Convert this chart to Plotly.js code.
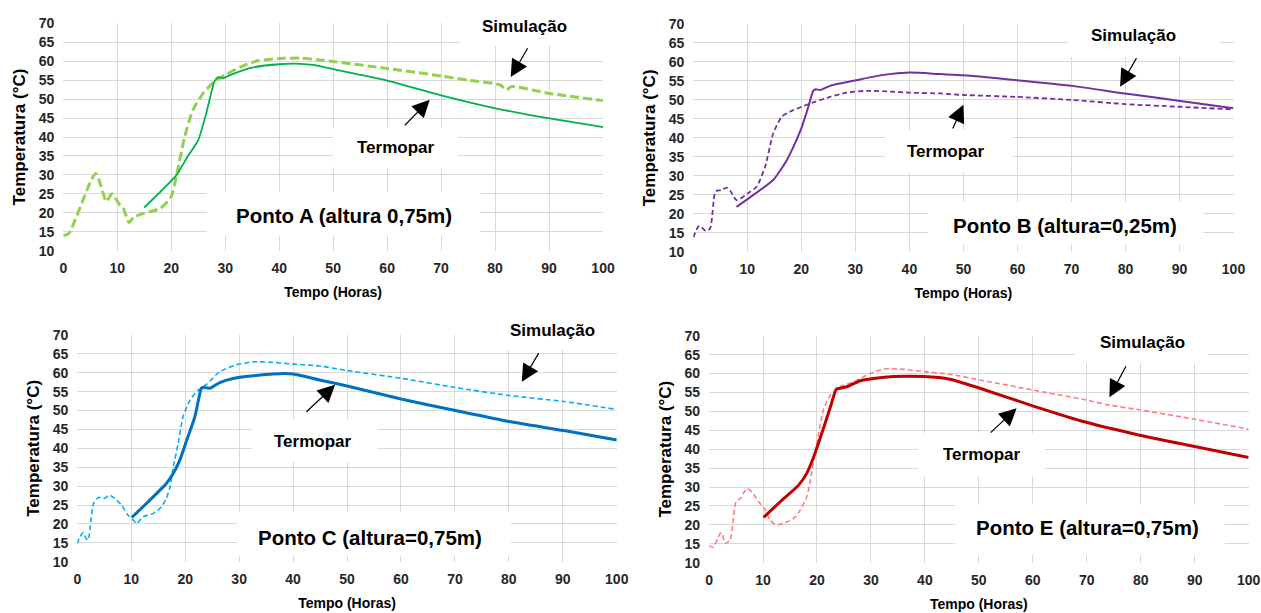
<!DOCTYPE html>
<html><head><meta charset="utf-8">
<script src="https://cdn.plot.ly/plotly-3.0.1.min.js"></script>
<style>html,body{margin:0;padding:0;background:#fff}#chart{width:1261px;height:613px}</style>
</head><body><div id="chart"></div>
<script>
// ---- Ponto A ----
const simA_x = [0,1,6,8,9,10.5,11.1,12.2,13,15,18,20,21,22.5,24,26,28,30,33,36,40,44,47,50,60,70,75,81,82.1,83,90,100];
const simA_y = [14,14.5,30.4,23,25,22,21.2,17.4,18.8,19.9,21.2,24.3,30,40.1,47.1,51.7,54.6,56.4,58.6,60.1,60.7,60.8,60.4,59.9,58.1,56.1,55.0,53.7,52.4,53.3,51.5,49.6];
const terA_x = [15,21,23,25,26.5,28,28.7,29.6,31,35,40,44,46.3,50,60,70,80.3,90.1,100];
const terA_y = [21.4,30,34.8,39.2,46.3,54.6,55.8,55.5,56.4,58.3,59.2,59.3,59.0,57.9,54.9,51.0,47.5,44.9,42.6];
// ---- Ponto B ----
const simB_x = [0,0.9,1.2,2.3,3.1,4,4.4,5.2,6.2,6.8,8,10.2,11.7,13.3,14.8,16.4,17.9,20.4,22.5,25.3,28.4,32.1,36.4,40.1,45.7,50,59.9,70.1,79.9,89.8,100];
const simB_y = [13.8,16.6,16.8,15.5,16.1,25.5,26.1,26.2,26.9,26.2,23.6,25.5,27.1,32.4,41.2,45.6,46.9,48.4,49.5,50.8,51.9,52.4,52.2,51.9,51.7,51.3,50.8,50.0,48.9,48.2,47.5];
const terB_x = [8,14.8,15.7,17.3,18.8,20.1,21.3,22.2,22.65,23.5,25.3,30.2,35.2,40.1,45.7,50,59.9,70.1,79.9,89.8,100];
const terB_y = [21.8,28.9,30.6,34.1,38.5,42.9,48.2,52.4,52.8,52.6,53.7,55.2,56.6,57.2,56.8,56.5,55.2,53.7,51.7,49.8,47.8];
// ---- Ponto C ----
const simC_x = [0,0.5,1.1,1.6,2.0,3.0,3.9,5.1,6.0,7.3,8.2,9.4,10.4,11.0,12.2,14.1,15.6,16.5,17.2,17.8,18.7,19.6,20.9,22.4,24.0,26.4,29.5,32.6,35.7,40,44.9,50,60.2,70.1,80,90.2,100];
const simC_y = [14.8,16.6,17.7,16.2,15.7,25.4,27.0,26.8,27.6,26.3,25.0,22.3,21.0,20.1,21.9,22.8,24.5,26.8,29.8,35.1,41.3,48.4,52.8,55.4,57.0,60.3,62.1,62.9,62.8,62.3,61.8,60.6,58.5,56.1,54.0,52.4,50.3];
const terC_x = [10.1,12.8,16.5,17.8,19,20.2,21.8,23.0,23.3,24.6,26.4,28.9,32.6,36.3,40,44.9,50,60.2,70.1,80,90.2,100];
const terC_y = [21.7,25.4,30.7,33.4,36.9,41.8,48.4,55.9,56.1,55.9,57.4,58.5,59.2,59.7,59.7,58.1,56.5,53.0,50.0,47.1,44.7,42.2];
// ---- Ponto E ----
const simE_x = [0,0.8,2.0,2.35,3.0,3.9,5.0,5.8,7.0,7.9,9.2,10.4,11.3,12.3,13.8,15.7,16.9,18.1,18.8,19.4,20.3,21.2,22.5,24.3,26.8,29.9,32.4,36.1,39.8,44.6,50.2,60.1,69.9,74,79.8,90,100];
const simE_y = [14.4,14.1,17.6,17.9,15.1,16.0,26.1,27.0,29.6,28.8,26.1,23.9,21.3,20.0,20.4,21.7,23.9,27.4,31.9,37.1,44.2,50.4,54.3,56.5,57.8,60.0,61.2,61.1,60.5,59.8,58.3,55.6,53.0,51.7,50.4,47.9,45.3];
const terE_x = [10.1,13.2,16.6,18.1,19.4,20.9,22.5,23.6,24.3,25.9,28.0,30.5,34.2,39.8,44.6,50.2,60.1,69.9,79.8,90,100];
const terE_y = [22.0,26.1,30.5,33.6,38.0,44.2,51.2,55.9,56.1,56.7,58.1,58.7,59.2,59.2,58.5,56.1,51.4,47.1,43.7,40.7,37.8];

const panelTitles = ['Ponto A (altura 0,75m)','Ponto B (altura=0,25m)','Ponto C (altura=0,75m)','Ponto E (altura=0,75m)'];
const simLabel = 'Simulação';
const terLabel = 'Termopar';
const xTitle = 'Tempo (Horas)';
const yTitle = 'Temperatura (°C)';

const FONT = '"Liberation Sans", Arial, sans-serif';

function tr(x, y, ax, color, width, dash, name) {
  return {x: x, y: y, xaxis: 'x' + ax, yaxis: 'y' + ax, type: 'scatter', mode: 'lines', name: name,
    line: {color: color, width: width, dash: dash, shape: 'spline', smoothing: 0.6}, hoverinfo: 'skip'};
}
const data = [
  tr(simA_x, simA_y, '', '#92d050', 3, '9px,4px', simLabel),
  tr(terA_x, terA_y, '', '#00b050', 1.8, 'solid', terLabel),
  tr(simB_x, simB_y, '2', '#7030a0', 1.8, '5px,3px', simLabel),
  tr(terB_x, terB_y, '2', '#7030a0', 2, 'solid', terLabel),
  tr(simC_x, simC_y, '3', '#00b0f0', 1.6, '5px,3px', simLabel),
  tr(terC_x, terC_y, '3', '#0070c0', 3, 'solid', terLabel),
  tr(simE_x, simE_y, '4', '#ff7c80', 1.6, '5px,3px', simLabel),
  tr(terE_x, terE_y, '4', '#c00000', 3, 'solid', terLabel)
];

function xa(domain, anchor) {
  return {domain: domain, anchor: anchor, range: [0, 100], dtick: 10, tick0: 0,
    showgrid: true, gridcolor: '#d9d9d9', gridwidth: 1, zeroline: false, showline: false, ticks: '',
    ticklabelstandoff: 7,
    tickfont: {family: FONT, size: 14, color: '#262626', weight: 700},
    title: {text: xTitle, font: {family: FONT, size: 14, color: '#000', weight: 700}, standoff: 12},
    fixedrange: true};
}
function ya(domain, anchor) {
  return {domain: domain, anchor: anchor, range: [10, 70], dtick: 5, tick0: 10,
    showgrid: true, gridcolor: '#d9d9d9', gridwidth: 1, zeroline: false, showline: false, ticks: '',
    ticklabelstandoff: 8,
    tickfont: {family: FONT, size: 14, color: '#262626', weight: 700},
    title: {text: yTitle, font: {family: FONT, size: 17, color: '#000', weight: 700}, standoff: 8},
    fixedrange: true};
}

// white label boxes [axis, x0, x1, y0, y1]
const boxes = [
  ['', 73.5, 105, 64, 76], ['', 50.0, 73.1, 31.8, 42.6], ['', 26.6, 77.2, 14.1, 25.5],
  ['2', 69.4, 97.5, 61.3, 73], ['2', 35.5, 59.0, 31.0, 42.1], ['2', 43.5, 94.4, 11.8, 23.1],
  ['3', 75.6, 102, 66, 76], ['3', 32.4, 55.6, 36.4, 47.5], ['3', 29.6, 80.4, 11.7, 23.2],
  ['4', 67.8, 92.5, 62.8, 75], ['4', 38.7, 62.3, 32.7, 44.3], ['4', 45.6, 95.6, 12.0, 25.3]
];
const shapes = boxes.map(b => ({type: 'rect', xref: 'x' + b[0], yref: 'y' + b[0], x0: b[1], x1: b[2], y0: b[3], y1: b[4],
  fillcolor: '#ffffff', line: {width: 0}, layer: 'between'}));

// labels [axis, x, y, text, size]  (x in 0-100 axis units, y in temperature units)
const labels = [
  ['', 85.5, 69.1, simLabel, 17], ['', 61.6, 37.2, terLabel, 17], ['', 52.0, 19.4, panelTitles[0], 20.5],
  ['2', 81.4, 67.1, simLabel, 17], ['2', 46.8, 36.3, terLabel, 17], ['2', 68.8, 17.0, panelTitles[1], 20.5],
  ['3', 88.0, 71.3, simLabel, 17], ['3', 43.7, 41.9, terLabel, 17], ['3', 54.3, 16.5, panelTitles[2], 20.5],
  ['4', 80.3, 68.1, simLabel, 17], ['4', 50.6, 38.5, terLabel, 17], ['4', 70.2, 19.2, panelTitles[3], 20.5]
];
// arrows [axis, headX, headY, tailX, tailY]
const arrows = [
  ['', 82.9, 55.8, 86.2, 63.8], ['', 67.9, 49.8, 63.0, 42.7],
  ['2', 79.0, 53.5, 82.2, 61.4], ['2', 50.0, 48.7, 47.9, 42.1],
  ['3', 82.4, 57.6, 85.7, 65.6], ['3', 47.8, 56.8, 42.2, 49.3],
  ['4', 74.2, 53.7, 77.4, 62.3], ['4', 57.0, 50.8, 51.9, 44.0]
];
const annotations = labels.map(l => ({xref: 'x' + l[0] + ' domain', yref: 'y' + l[0] + ' domain',
  x: l[1] / 100, y: (l[2] - 10) / 60, xanchor: 'center', yanchor: 'middle', text: l[3], showarrow: false,
  font: {family: FONT, size: l[4], color: '#000', weight: 700}}))
 .concat(arrows.map(a => ({xref: 'x' + a[0], yref: 'y' + a[0], x: a[1], y: a[2], axref: 'x' + a[0], ayref: 'y' + a[0],
  ax: a[3], ay: a[4], text: '', showarrow: true, arrowhead: 2, arrowsize: 2.9, arrowwidth: 1.2, arrowcolor: '#000'})));

const layout = {
  width: 1261, height: 613, margin: {l: 0, r: 0, t: 0, b: 0},
  paper_bgcolor: '#ffffff', plot_bgcolor: '#ffffff', showlegend: false,
  xaxis: xa([0.0502, 0.4782], 'y'), yaxis: ya([0.5910, 0.9620], 'x'),
  xaxis2: xa([0.5498, 0.9782], 'y2'), yaxis2: ya([0.5894, 0.9608], 'x2'),
  xaxis3: xa([0.0613, 0.4891], 'y3'), yaxis3: ya([0.0837, 0.4535], 'x3'),
  xaxis4: xa([0.5623, 0.9902], 'y4'), yaxis4: ya([0.0821, 0.4524], 'x4'),
  shapes: shapes, annotations: annotations
};
Plotly.newPlot('chart', data, layout, {staticPlot: true, displayModeBar: false});
</script></body></html>
